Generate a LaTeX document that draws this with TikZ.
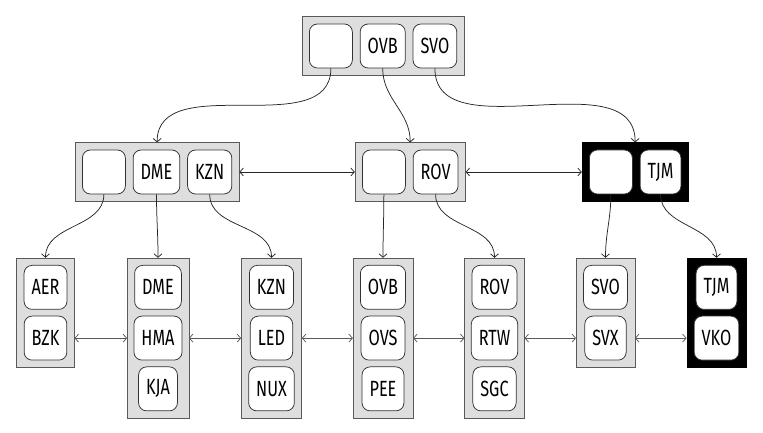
\documentclass[tikz,border=0pt]{standalone}
\usepackage{fontspec}
\setmainfont[FakeStretch=0.74]{Fira Sans}
\usetikzlibrary{positioning,fit,backgrounds,arrows.meta}

\begin{document}
\begin{tikzpicture}[x=1pt,y=1pt,line width=0.75,
  >={Straight Barb[length=3.5pt,width=8pt]},
  key/.style={draw=black!80,fill=white,rounded corners=8,minimum height=44,inner xsep=7.5,font=\fontsize{22}{24}\selectfont},
  nokey/.style={key,minimum width=43},
  blk/.style={draw=black!65,fill=black!13,inner sep=7},
  blkdark/.style={draw=black,fill=black,inner sep=7},
  tree/.style={->,black!85},
  sib/.style={<->,black!85},
  leafsib/.style={<->,black!65}]
  \useasboundingbox (0,0) rectangle (763,433);
  % root
  \node[nokey,anchor=west] (r0) at (309,387) {};
  \node[key,right=7pt of r0] (r1) {OVB};
  \node[key,right=7pt of r1] (r2) {SVO};
  % inner level
  \node[nokey,anchor=west] (a0) at (82,261) {};
  \node[key,right=7pt of a0] (a1) {DME};
  \node[key,right=7pt of a1] (a2) {KZN};
  \node[nokey,anchor=west] (b0) at (362,261) {};
  \node[key,right=7pt of b0] (b1) {ROV};
  \node[nokey,anchor=west] (c0) at (589,261) {};
  \node[key,right=7pt of c0] (c1) {TJM};
  % leaves
  \node[key,anchor=north] (l1a) at (45.5,168) {AER};
  \node[key,below=6pt of l1a] (l1b) {BZK};
  \node[key,anchor=north] (l2a) at (158,168) {DME};
  \node[key,below=6pt of l2a] (l2b) {HMA};
  \node[key,below=6pt of l2b] (l2c) {KJA};
  \node[key,anchor=north] (l3a) at (271.5,168) {KZN};
  \node[key,below=6pt of l3a] (l3b) {LED};
  \node[key,below=6pt of l3b] (l3c) {NUX};
  \node[key,anchor=north] (l4a) at (383,168) {OVB};
  \node[key,below=6pt of l4a] (l4b) {OVS};
  \node[key,below=6pt of l4b] (l4c) {PEE};
  \node[key,anchor=north] (l5a) at (494.5,168) {ROV};
  \node[key,below=6pt of l5a] (l5b) {RTW};
  \node[key,below=6pt of l5b] (l5c) {SGC};
  \node[key,anchor=north] (l6a) at (605.5,168) {SVO};
  \node[key,below=6pt of l6a] (l6b) {SVX};
  \node[key,anchor=north] (l7a) at (716.5,168) {TJM};
  \node[key,below=6pt of l7a] (l7b) {VKO};
  \begin{scope}[on background layer]
    \node[blk,fit=(r0)(r2)] (root) {};
    \node[blk,fit=(a0)(a2)] (A) {};
    \node[blk,fit=(b0)(b1)] (B) {};
    \node[blkdark,fit=(c0)(c1)] (C) {};
    \node[blk,fit=(l1a)(l1b)] (L1) {};
    \node[blk,fit=(l2a)(l2c)] (L2) {};
    \node[blk,fit=(l3a)(l3c)] (L3) {};
    \node[blk,fit=(l4a)(l4c)] (L4) {};
    \node[blk,fit=(l5a)(l5c)] (L5) {};
    \node[blk,fit=(l6a)(l6b)] (L6) {};
    \node[blkdark,fit=(l7a)(l7b)] (L7) {};
  \end{scope}
  % children
  \draw[tree] (r0.south) to[out=-90,in=90] (A.north);
  \draw[tree] (r1.south) to[out=-90,in=90] (B.north);
  \draw[tree] (r2.south) to[out=-90,in=90] (C.north);
  \draw[tree] (a0.south) to[out=-90,in=90] (L1.north);
  \draw[tree] (a1.south) to[out=-90,in=90] (L2.north);
  \draw[tree] (a2.south) to[out=-90,in=90] (L3.north);
  \draw[tree] (b0.south) to[out=-90,in=90] (L4.north);
  \draw[tree] (b1.south) to[out=-90,in=90] (L5.north);
  \draw[tree] (c0.south) to[out=-90,in=90] (L6.north);
  \draw[tree] (c1.south) to[out=-90,in=90] (L7.north);
  % siblings
  \draw[sib] (A.east) -- (B.west);
  \draw[sib] (B.east) -- (C.west);
  \draw[leafsib] (L1.east |- l1b) -- (L2.west |- l1b);
  \draw[leafsib] (L2.east |- l2b) -- (L3.west |- l2b);
  \draw[leafsib] (L3.east |- l3b) -- (L4.west |- l3b);
  \draw[leafsib] (L4.east |- l4b) -- (L5.west |- l4b);
  \draw[leafsib] (L5.east |- l5b) -- (L6.west |- l5b);
  \draw[leafsib] (L6.east |- l6b) -- (L7.west |- l6b);
\end{tikzpicture}
\end{document}
